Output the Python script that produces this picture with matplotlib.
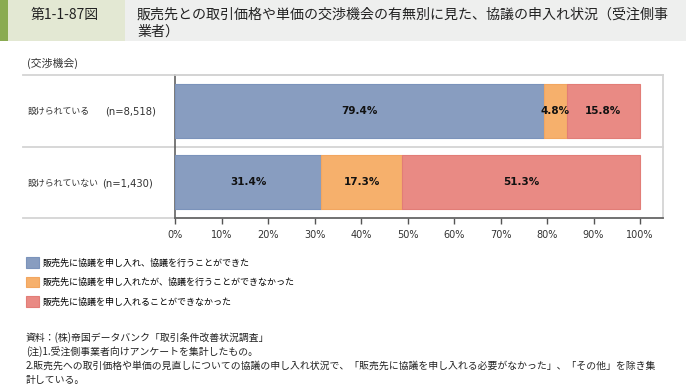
import matplotlib

matplotlib.use("Agg")
import matplotlib.pyplot as plt
from matplotlib.patches import Rectangle

plt.rcParams["font.family"] = ["Noto Sans CJK JP", "DejaVu Sans"]

W, H = 686, 385

rows = ["設けられている", "設けられていない"]
row_n = ["(n=8,518)", "(n=1,430)"]
series = [
    "販売先に協議を申し入れ、協議を行うことができた",
    "販売先に協議を申し入れたが、協議を行うことができなかった",
    "販売先に協議を申し入れることができなかった",
]
values = [
    [79.4, 31.4],
    [4.8, 17.3],
    [15.8, 51.3],
]
ticks = [0, 10, 20, 30, 40, 50, 60, 70, 80, 90, 100]

colors = ["#889dc0", "#f6b06c", "#e98a84"]
edges = ["#7b93bb", "#f2a660", "#e27d77"]

title_no = "第1-1-87図"
title_l1 = "販売先との取引価格や単価の交渉機会の有無別に見た、協議の申入れ状況（受注側事"
title_l2 = "業者）"
axis_caption = "(交渉機会)"
notes = [
    "資料：(株)帝国データバンク「取引条件改善状況調査」",
    "(注)1.受注側事業者向けアンケートを集計したもの。",
    "2.販売先への取引価格や単価の見直しについての協議の申し入れ状況で、「販売先に協議を申し入れる必要がなかった」、「その他」を除き集",
    "計している。",
]

NUM_FONT = ["DejaVu Sans", "Noto Sans CJK JP"]


def fx(px):
    return px / W


def fy(py):
    return 1 - py / H


fig = plt.figure(figsize=(W / 100, H / 100), dpi=100)

# header band
fig.patches.append(Rectangle((0, fy(41)), fx(W), 41 / H, transform=fig.transFigure,
                             facecolor="#eeefee", edgecolor="none", zorder=0))
fig.patches.append(Rectangle((fx(8), fy(41)), fx(117), 41 / H, transform=fig.transFigure,
                             facecolor="#e3e8d3", edgecolor="none", zorder=0))
fig.patches.append(Rectangle((0, fy(41)), fx(8), 41 / H, transform=fig.transFigure,
                             facecolor="#8aab52", edgecolor="none", zorder=0))
fig.text(fx(65), fy(15), title_no, fontsize=10, ha="center", va="center", color="#222222")
fig.text(fx(137), fy(15), title_l1, fontsize=10.1, ha="left", va="center", color="#222222")
fig.text(fx(137), fy(32), title_l2, fontsize=10.1, ha="left", va="center", color="#222222")

# chart axes
ax_l, ax_r, ax_t, ax_b = 175.5, 663, 75, 218
ax = fig.add_axes([fx(ax_l), fy(ax_b), (ax_r - ax_l) / W, (ax_b - ax_t) / H])
xmax = (ax_r - ax_l) / (640 - ax_l) * 100
ax.set_xlim(0, xmax)
ax.set_ylim(-0.5, 1.5)

ypos = [1, 0]
left = [0.0, 0.0]
containers = []
for vals, c, ec, name in zip(values, colors, edges, series):
    bc = ax.barh(ypos, vals, left=left, height=0.75, color=c, edgecolor=ec,
                 linewidth=0.8, label=name, zorder=3)
    containers.append(bc)
    for y, l, v in zip(ypos, left, vals):
        ax.text(l + v / 2, y, f"{v}%", ha="center", va="center", fontsize=7.5,
                fontweight="bold", color="#111111", family=NUM_FONT, zorder=4)
    left = [a + b for a, b in zip(left, vals)]

ax.set_yticks([])
ax.set_xticks(ticks)
ax.set_xticklabels([f"{t}%" for t in ticks], fontsize=7, color="#333333", family=NUM_FONT)
ax.tick_params(axis="x", direction="out", length=4, width=1, color="#555555", pad=5)

for s in ["top", "right"]:
    ax.spines[s].set_color("#d4d4d4")
    ax.spines[s].set_linewidth(1.3)
ax.spines["left"].set_color("#555555")
ax.spines["bottom"].set_color("#666666")
ax.spines["left"].set_linewidth(1.1)
ax.spines["bottom"].set_linewidth(1.3)

ext = (23 - ax_l) / (ax_r - ax_l)
for y in [1.5, 0.5]:
    ax.plot([ext, 1], [y, y], transform=ax.get_yaxis_transform(), color="#d4d4d4",
            lw=1.3, clip_on=False, zorder=1)
ax.plot([ext, 0], [-0.5, -0.5], transform=ax.get_yaxis_transform(), color="#d4d4d4",
        lw=1.3, clip_on=False, zorder=1)

# captions
fig.text(fx(27), fy(63), axis_caption, fontsize=7.8, ha="left", va="center", color="#333333")
for r, n, py, nx in zip(rows, row_n, [111, 183], [105, 102]):
    fig.text(fx(28), fy(py), r, fontsize=6.4, ha="left", va="center", color="#333333")
    fig.text(fx(nx), fy(py), n, fontsize=7.2, ha="left", va="center", color="#333333",
             family=NUM_FONT)

# legend
fig.legend(handles=containers, labels=series, loc="upper left",
           bbox_to_anchor=(fx(26), fy(257)), frameon=False, fontsize=6.5,
           handlelength=1.45, handleheight=1.45, handletextpad=0.45,
           labelspacing=1.0, borderaxespad=0, borderpad=0)

for t, py in zip(notes, [338, 352, 366, 380]):
    fig.text(fx(26), fy(py), t, fontsize=7.1, ha="left", va="center", color="#222222")

fig.savefig("out.png", dpi=100)
